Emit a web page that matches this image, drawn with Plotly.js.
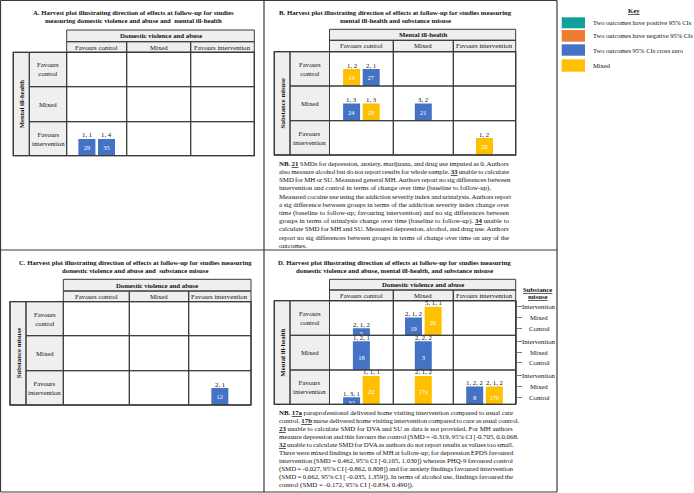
<!DOCTYPE html>
<html><head><meta charset="utf-8">
<script src="https://cdn.plot.ly/plotly-3.0.1.min.js"></script>
<style>html,body{margin:0;padding:0;background:#fff}</style>
</head><body><div id="chart" style="width:694px;height:493px"></div>
<script>
// ---------------- data ----------------
const panels = ['A', 'B', 'C', 'D'];
const directionCategories = ['Favours control', 'Mixed', 'Favours intervention'];
const suCategories = ['Control', 'Mixed', 'Intervention'];

const studyIds     = ['29','35','14','27','24','28','21','20','12','5','19','26','18','3','32','22','17a','8','17b'];
const studyPanel   = ['A','A','B','B','B','B','B','B','C','D','D','D','D','D','D','D','D','D','D'];
const rowDirection = ['Favours intervention','Favours intervention',
                      'Favours control','Favours control','Mixed','Mixed','Mixed','Favours intervention',
                      'Favours intervention',
                      'Favours control','Favours control','Favours control','Mixed','Mixed',
                      'Favours intervention','Favours intervention','Favours intervention','Favours intervention','Favours intervention'];
const colDirection = ['Favours control','Favours control',
                      'Favours control','Favours control','Favours control','Favours control','Mixed','Favours intervention',
                      'Favours intervention',
                      'Favours control','Mixed','Mixed','Favours control','Mixed',
                      'Favours control','Favours control','Mixed','Favours intervention','Favours intervention'];
const outcomeCounts = ['1, 1','1, 4','1, 2','2, 1','1, 3','1, 3','3, 2','1, 2','2, 1',
                       '2, 1, 2','2, 1, 2','5, 1, 1','1, 2, 1','2, 2, 2','1, 3, 1','1, 1, 1','2, 1, 2','1, 2, 2','2, 1, 2'];
const resultType   = ['cross','cross','mixed','cross','cross','mixed','cross','mixed','cross',
                      'cross','cross','mixed','cross','cross','cross','mixed','mixed','cross','mixed'];
const suDirection  = [null,null,null,null,null,null,null,null,null,
                      'Control','Mixed','Intervention','Intervention','Intervention','Control','Intervention','Intervention','Mixed','Mixed'];

const keyTypes   = ['positive','negative','cross','mixed'];
const keyLabels  = ['Two outcomes have positive 95% CIs','Two outcomes have negative 95% CIs','Two outcomes 95% CIs cross zero','Mixed'];

const panelTitles = [
  ['A. Harvest plot illustrating direction of effects at follow-up for studies','measuring domestic violence and abuse and  mental ill-health'],
  ['B. Harvest plot illustrating direction of effects at follow-up for studies measuring','mental ill-health and substance misuse'],
  ['C. Harvest plot illustrating direction of effects at follow-up for studies measuring','domestic violence and abuse and  substance misuse'],
  ['D. Harvest plot illustrating direction of effects at follow-up for studies measuring','domestic violence and abuse, mental ill-health, and substance misuse']
];
const panelColOutcome = ['Domestic violence and abuse','Mental ill-health','Domestic violence and abuse','Domestic violence and abuse'];
const panelRowOutcome = ['Mental ill-health','Substance misuse','Substance misuse','Mental ill-health'];

const notesB = [
  '<b>NB. <u>21</u></b> SMDs for depression, anxiety, marijuana, and drug use imputed as 0. Authors',
  'also measure alcohol but do not report results for whole sample. <b><u>33</u></b> unable to calculate',
  'SMD for MH or SU. Measured general MH. Authors report no sig differences between',
  'intervention and control in terms of change over time (baseline to follow-up).',
  'Measured cocaine use using the addiction severity index and urinalysis. Authors report',
  'a sig difference between groups in terms of the addiction severity index change over',
  'time (baseline to follow-up; favouring intervention) and no sig differences between',
  'groups in terms of urinalysis change over time (baseline to follow-up). <b><u>34</u></b> unable to',
  'calculate SMD for MH and SU. Measured depression, alcohol, and drug use. Authors',
  'report no sig differences between groups in terms of change over time on any of the',
  'outcomes.'
];
const notesBLast = [3, 10];
const notesD = [
  '<b>NB. <u>17a</u></b> paraprofessional delivered home visiting intervention compared to usual care',
  'control. <b><u>17b</u></b> nurse delivered home visiting intervention compared to care as usual control.',
  '<b><u>23</u></b> unable to calculate SMD for DVA and SU as data is not provided. For MH authors',
  'measure depression and this favours the control (SMD = -0.319, 95% CI [-0.705, 0.0.068.',
  '<b><u>32</u></b> unable to calculate SMD for DVA as authors do not report results as values too small.',
  'There were mixed findings in terms of MH at follow-up; for depression EPDS favoured',
  'intervention (SMD = 0.462, 95% CI [-0.105, 1.030]) whereas PHQ-9 favoured control',
  '(SMD = -0.027, 95% CI [-0.862, 0.808]) and for anxiety findings favoured intervention',
  '(SMD = 0.662, 95% CI [ -0.035, 1.359]). In terms of alcohol use, findings favoured the',
  'control (SMD = -0.172, 95% CI [-0.834, 0.490]).'
];
const notesDLast = [9];

// ---------------- styles / geometry (pixels) ----------------
const W = 694, H = 493;
const FAM = 'Liberation Serif';
const FONT = '"Liberation Serif", "Times New Roman", serif';
const TXT = '#111111';
const LINE = '#3a3a3a';
const GRAY = '#efefef';
const colours = {positive:'#12A199', negative:'#ED7D31', cross:'#4472C4', mixed:'#FFC000'};
const BAR_W = 17, BAR_STEP = 19.6;
const FS = 6.75, FS_TITLE = 6.75, FS_NOTE = 6.85, FS_KEY = 6.5;
const geom = {
  A: {cols:[66.7,126.7,190.7,254.3], hdr:[30,41.7], rows:[52.3,86.7,121.7,155.7], lab:29.3, outer:13.3, tx:133,   ty:[12.7,20.7]},
  B: {cols:[329.5,393.3,453.3,515.7], hdr:[29.3,40.3], rows:[51.7,86,120.7,155], lab:290, outer:274.3, tx:395.5, ty:[12.7,20.5]},
  C: {cols:[63.3,129.3,188.7,251],    hdr:[279.3,291], rows:[301.6,335.7,370.7,405], lab:26, outer:10, tx:135, ty:[262,270.5]},
  D: {cols:[329.5,393.3,453.3,515.7], hdr:[279.3,290], rows:[300.7,335.3,370,404.3], lab:290, outer:274.3, tx:394, ty:[262,270.5]}
};
const px = x => x / W, py = y => 1 - y / H;
const axName = (t, i) => t + (i === 1 ? '' : i);

const layout = {
  width: W, height: H, margin: {l:0, r:0, t:0, b:0},
  paper_bgcolor: '#ffffff', plot_bgcolor: 'rgba(0,0,0,0)',
  showlegend: false, font: {family: FONT, size: FS, color: TXT},
  shapes: [], annotations: []
};
function note(x, y, text, opt) {
  layout.annotations.push(Object.assign({xref:'paper', yref:'paper', x:px(x), y:py(y), text:text,
    showarrow:false, xanchor:'center', yanchor:'middle', font:{family:FONT, size:FS, color:TXT}}, opt || {}));
}
function fillRect(x0, y0, x1, y1, color) {
  layout.shapes.push({type:'rect', xref:'paper', yref:'paper', x0:px(x0), x1:px(x1), y0:py(y0), y1:py(y1),
    fillcolor:color, line:{width:0}, layer:'below'});
}
function lineRect(x0, y0, x1, y1, w) {
  layout.shapes.push({type:'rect', xref:'paper', yref:'paper', x0:px(x0), x1:px(x1), y0:py(y0), y1:py(y1),
    fillcolor:'rgba(0,0,0,0)', line:{width:w || 1, color:LINE}, layer:'above'});
}
function line(x0, y0, x1, y1, w, c) {
  layout.shapes.push({type:'line', xref:'paper', yref:'paper', x0:px(x0), x1:px(x1), y0:py(y0), y1:py(y1),
    line:{width:w || 1, color:c || LINE}, layer:'above'});
}

// text measurement for justified note paragraphs
const ctx = document.createElement('canvas').getContext('2d');
function measureHtml(html, size) {
  let bold = false, w = 0;
  html.split(/(<\/?[bu]>)/).forEach(tok => {
    if (tok === '<b>') bold = true;
    else if (tok === '</b>') bold = false;
    else if (tok === '<u>' || tok === '</u>' || !tok) {}
    else { ctx.font = (bold ? 'bold ' : '') + size + 'px "' + FAM + '"'; w += ctx.measureText(tok).width; }
  });
  return w;
}
function justified(lines, lastIdx, x0, x1, y0, dy) {
  lines.forEach((t, i) => {
    let txt = t;
    if (lastIdx.indexOf(i) < 0) {
      const plain = t.replace(/<[^>]+>/g, '');
      const spaces = plain.split(' ').length - 1;
      let ws = (x1 - x0 - measureHtml(t, FS_NOTE)) / spaces;
      ws = Math.max(-0.5, Math.min(2, ws));
      txt = '<span style="word-spacing:' + ws.toFixed(2) + 'px">' + t + '</span>';
    }
    note(x0, y0 + i * dy, txt, {xanchor:'left', align:'left', font:{family:FONT, size:FS_NOTE, color:TXT}});
  });
}

// ---------------- frame ----------------
line(0.5, 0.5, 557, 0.5, 1.2);
line(0.5, 0.5, 0.5, 492, 1.2);
line(0.5, 492, 557, 492, 1.2);
line(264, 0.5, 264, 492, 1.2);
line(557, 0.5, 557, 492, 1.2);
line(0.5, 250, 557, 250, 1.2);

// ---------------- tables ----------------
panels.forEach((p, pi) => {
  const g = geom[p];
  const c = g.cols, r = g.rows;
  const sub = [g.hdr[1], r[0]];
  note(g.tx, g.ty[0], '<b>' + panelTitles[pi][0] + '</b>', {font:{family:FONT, size:FS_TITLE, color:TXT}});
  note(g.tx, g.ty[1], '<b>' + panelTitles[pi][1] + '</b>', {font:{family:FONT, size:FS_TITLE, color:TXT}});
  fillRect(c[0], g.hdr[0], c[3], r[0], GRAY);
  fillRect(g.outer, r[0], c[0], r[3], GRAY);
  lineRect(c[0], g.hdr[0], c[3], g.hdr[1]);
  note((c[0] + c[3]) / 2, (g.hdr[0] + g.hdr[1]) / 2, '<b>' + panelColOutcome[pi] + '</b>');
  for (let k = 0; k < 3; k++) {
    lineRect(c[k], sub[0], c[k + 1], sub[1]);
    note((c[k] + c[k + 1]) / 2, (sub[0] + sub[1]) / 2, directionCategories[k]);
    for (let j = 0; j < 3; j++) lineRect(c[k], r[j], c[k + 1], r[j + 1]);
  }
  for (let j = 0; j < 3; j++) {
    lineRect(g.lab, r[j], c[0], r[j + 1]);
    note((g.lab + c[0]) / 2, (r[j] + r[j + 1]) / 2, directionCategories[j].replace(' ', '<br>'));
  }
  lineRect(g.outer, r[0], g.lab, r[3]);
  note((g.outer + g.lab) / 2, (r[0] + r[3]) / 2, '<b>' + panelRowOutcome[pi] + '</b>', {textangle:-90});
  lineRect(g.outer, r[0], c[3], r[3], 1.3);
});

// ---------------- axes ----------------
panels.forEach((p, pi) => {
  const g = geom[p];
  for (let k = 0; k < 3; k++) {
    const i = pi * 3 + k + 1;
    const w = g.cols[k + 1] - g.cols[k];
    layout[axName('xaxis', i)] = {domain:[px(g.cols[k]), px(g.cols[k + 1])], range:[-w / 2, w / 2],
      visible:false, fixedrange:true, anchor:axName('y', pi * 3 + 3)};
  }
  for (let j = 0; j < 3; j++) {
    const i = pi * 3 + j + 1;
    const ax = {domain:[py(g.rows[j + 1]), py(g.rows[j])], fixedrange:true, showgrid:false, zeroline:false};
    if (p === 'D') {
      Object.assign(ax, {range:[0.35, 3.55], side:'right', anchor:axName('x', pi * 3 + 3), showline:true,
        linecolor:'#7f7f7f', linewidth:1, ticks:'outside', ticklen:5, tickcolor:'#7f7f7f', tickwidth:1,
        tickvals:[1, 2, 3], showticklabels:false});
      suCategories.forEach((s, si) => {
        layout.annotations.push({xref:'paper', yref:axName('y', i), x:px(539), y:si + 1, text:s,
          showarrow:false, xanchor:'center', yanchor:'middle', font:{family:FONT, size:FS, color:TXT}});
      });
    } else {
      Object.assign(ax, {range:[0, 2.03], visible:false});
    }
    layout[axName('yaxis', i)] = ax;
  }
});
note(537.7, 289.3, '<b><u>Substance</u></b>');
note(537.7, 296.7, '<b><u>misuse</u></b>');

// ---------------- bars ----------------
const cellMembers = {};
studyIds.forEach((id, i) => {
  const key = studyPanel[i] + '|' + rowDirection[i] + '|' + colDirection[i];
  (cellMembers[key] = cellMembers[key] || []).push(i);
});
const traces = [];
studyIds.forEach((id, i) => {
  const pi = panels.indexOf(studyPanel[i]);
  const rj = directionCategories.indexOf(rowDirection[i]);
  const ck = directionCategories.indexOf(colDirection[i]);
  const members = cellMembers[studyPanel[i] + '|' + rowDirection[i] + '|' + colDirection[i]];
  const k = members.indexOf(i), n = members.length;
  const xv = (k - (n - 1) / 2) * BAR_STEP;
  const yv = suDirection[i] ? suCategories.indexOf(suDirection[i]) + 1 : 1;
  const xa = axName('x', pi * 3 + ck + 1), ya = axName('y', pi * 3 + rj + 1);
  traces.push({type:'bar', x:[xv], y:[yv], width:[BAR_W], xaxis:xa, yaxis:ya,
    marker:{color:colours[resultType[i]], line:{width:0}},
    text:[id], textposition:'inside', insidetextanchor:'middle', textangle:0, constraintext:'none',
    textfont:{family:FONT, size:6.5, color:'#ffffff'}, hoverinfo:'skip', cliponaxis:false});
  layout.annotations.push({xref:xa, yref:ya, x:xv, y:yv, text:outcomeCounts[i], showarrow:false,
    xanchor:'center', yanchor:'bottom', yshift:-1.5, font:{family:FONT, size:FS, color:TXT}});
});

// ---------------- notes ----------------
justified(notesB, notesBLast, 277, 507, 163.3, 8.2);
justified(notesD, notesDLast, 277, 511, 412.7, 8.03);

// ---------------- key ----------------
note(634, 10, '<b><u>Key</u></b>');
const keyY = [[17.3, 28.3], [30, 41.7], [44.3, 55.7], [59.3, 71.7]];
keyTypes.forEach((t, i) => {
  fillRect(561.7, keyY[i][0], 585, keyY[i][1], colours[t]);
  note(590.5, (keyY[i][0] + keyY[i][1]) / 2, keyLabels[i], {xanchor:'left', align:'left', font:{family:FONT, size:FS_KEY, color:TXT}});
});

Plotly.newPlot('chart', traces, layout, {staticPlot:true, displayModeBar:false});
</script></body></html>
